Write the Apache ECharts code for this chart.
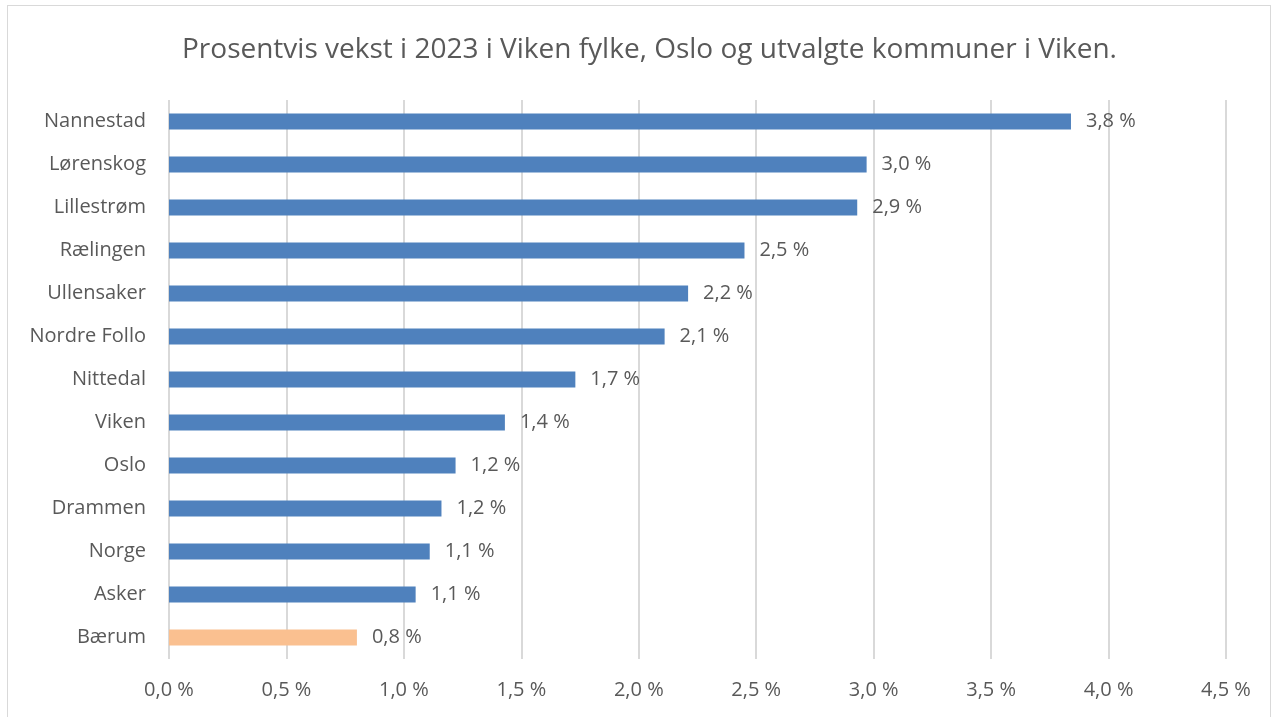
<!DOCTYPE html>
<html>
<head>
<meta charset="utf-8">
<script src="https://cdn.jsdelivr.net/npm/echarts@6/dist/echarts.min.js"></script>
<style>
  html, body { margin: 0; padding: 0; background: #fff; }
  #frame {
    position: absolute; left: 7px; top: 5px; width: 1264px; height: 720px;
    border: 1px solid #d9d9d9; box-sizing: border-box;
  }
  #myChart { position: absolute; left: 0; top: 0; width: 1273px; height: 717px; }
</style>
</head>
<body>
<div id="frame"></div>
<div id="myChart"></div>
<script>
// kategorier nedenfra og opp (ECharts tegner første kategori nederst)
var kommuner = ['Bærum', 'Asker', 'Norge', 'Drammen', 'Oslo', 'Viken', 'Nittedal',
  'Nordre Follo', 'Ullensaker', 'Rælingen', 'Lillestrøm', 'Lørenskog', 'Nannestad'];
var vekst = [0.80, 1.05, 1.11, 1.16, 1.22, 1.43, 1.73, 2.11, 2.21, 2.45, 2.93, 2.97, 3.84];
var uthevet = ['Bærum'];
var xTicks = [0, 0.5, 1, 1.5, 2, 2.5, 3, 3.5, 4, 4.5];

function pst(v) {
  return v.toFixed(1).replace('.', ',') + ' %';
}

var myChart = echarts.init(document.getElementById('myChart'));
myChart.setOption({
  animation: false,
  textStyle: { fontFamily: 'Open Sans' },
  title: {
    text: 'Prosentvis vekst i 2023 i Viken fylke, Oslo og utvalgte kommuner i Viken.',
    left: 177,
    top: 31,
    textStyle: { color: '#595959', fontSize: 28, fontWeight: 'normal', fontFamily: 'Open Sans' }
  },
  grid: { left: 169, right: 47, top: 100, bottom: 58, containLabel: false },
  xAxis: {
    type: 'value',
    min: xTicks[0],
    max: xTicks[xTicks.length - 1],
    interval: 0.5,
    axisLine: { show: false },
    axisTick: { show: false },
    splitLine: { lineStyle: { color: '#d9d9d9', width: 2 } },
    axisLabel: {
      color: '#595959', fontSize: 20, margin: 21,
      formatter: function (v) { return pst(v); }
    }
  },
  yAxis: {
    type: 'category',
    data: kommuner,
    axisLine: { show: false },
    axisTick: { show: false },
    axisLabel: { color: '#595959', fontSize: 20, margin: 23 }
  },
  series: [{
    type: 'bar',
    barWidth: 16,
    data: vekst.map(function (v, i) {
      return {
        value: v,
        itemStyle: { color: uthevet.indexOf(kommuner[i]) >= 0 ? '#FAC090' : '#4F81BD' }
      };
    }),
    label: {
      show: true, position: 'right', distance: 15,
      color: '#595959', fontSize: 20,
      formatter: function (p) { return pst(p.value); }
    }
  }]
});
</script>
</body>
</html>
